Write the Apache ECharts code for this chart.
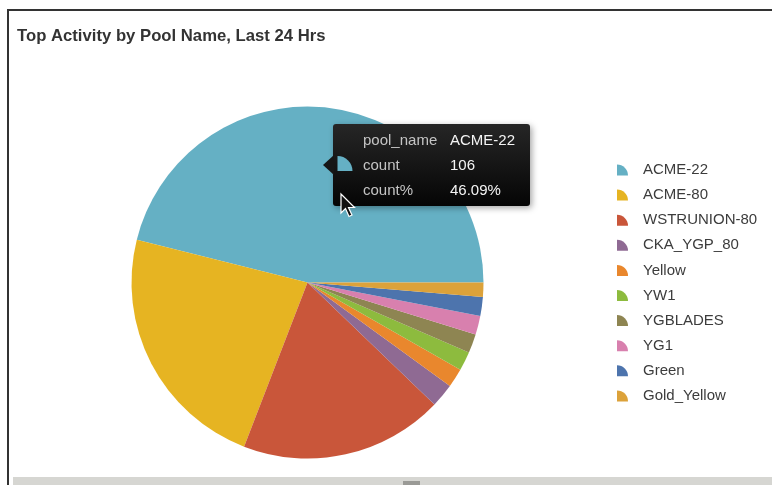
<!DOCTYPE html>
<html>
<head>
<meta charset="utf-8">
<title>Top Activity by Pool Name, Last 24 Hrs</title>
<script src="https://cdn.jsdelivr.net/npm/echarts@6/dist/echarts.min.js"></script>
<style>
  html, body { margin: 0; padding: 0; background: #ffffff; }
  #chart { width: 772px; height: 485px; }
</style>
</head>
<body>
<div id="chart"></div>
<script>
// Pool names and their activity counts over the last 24 hours
const poolNames = ['ACME-22', 'ACME-80', 'WSTRUNION-80', 'CKA_YGP_80', 'Yellow', 'YW1', 'YGBLADES', 'YG1', 'Green', 'Gold_Yellow'];
const counts = [106, 53, 43, 5, 4, 4, 4, 4, 4, 3];
const sliceColors = ['#65b0c4', '#e6b422', '#c9563a', '#8f6a93', '#e9872d', '#8dbb3e', '#8e8552', '#d880ae', '#4d74ad', '#dca23a'];

// Fields shown in the hover card
const tipFields = ['pool_name', 'count', 'count%'];
const tipIndex = 0;

const total = counts.reduce((a, b) => a + b, 0);
const tipValues = [
  poolNames[tipIndex],
  String(counts[tipIndex]),
  (counts[tipIndex] / total * 100).toFixed(2) + '%'
];

const wedgeIcon = 'path://M0,11 L0,0 A11,11 0 0 1 11,11 Z';
const FONT = 'Liberation Sans, Arial, Helvetica, sans-serif';

const chart = echarts.init(document.getElementById('chart'), null, { renderer: 'canvas' });

// Hover card (box, pointer, wedge swatch, rows) and the mouse pointer
const tipX = 333, tipY = 124, tipW = 197, tipH = 82;
const tipRows = [];
tipFields.forEach((f, i) => {
  const y = 140.5 + i * 25.2;
  tipRows.push({ type: 'text', x: 363, y: y, z: 101,
    style: { text: f, fill: '#c4c4c4', font: '15px ' + FONT, textVerticalAlign: 'middle', verticalAlign: 'middle' } });
  tipRows.push({ type: 'text', x: 450, y: y, z: 101,
    style: { text: tipValues[i], fill: '#f4f4f4', font: '15px ' + FONT, textVerticalAlign: 'middle', verticalAlign: 'middle' } });
});

const option = {
  backgroundColor: '#ffffff',
  animation: false,
  title: {
    text: 'Top Activity by Pool Name, Last 24 Hrs',
    left: 17, top: 28, padding: 0,
    textStyle: { fontFamily: FONT, fontSize: 16.7, fontWeight: 'bold', color: '#333333' }
  },
  legend: {
    orient: 'vertical',
    left: 617, top: 162,
    padding: 0,
    itemWidth: 11, itemHeight: 11,
    itemGap: 9.1,
    icon: wedgeIcon,
    selectedMode: false,
    data: poolNames,
    textStyle: { fontFamily: FONT, fontSize: 15, color: '#3c3c3c', lineHeight: 16, padding: [0, 0, 0, 10] }
  },
  color: sliceColors,
  series: [{
    type: 'pie',
    center: [307.5, 282.5],
    radius: 176,
    startAngle: 0,
    clockwise: false,
    avoidLabelOverlap: false,
    label: { show: false },
    labelLine: { show: false },
    itemStyle: { borderWidth: 0 },
    emphasis: { disabled: true },
    data: poolNames.map((n, i) => ({ name: n, value: counts[i] }))
  }],
  graphic: [
    // panel frame
    { type: 'rect', shape: { x: 7, y: 9, width: 765, height: 2 }, style: { fill: '#333333' }, z: 50 },
    { type: 'rect', shape: { x: 7, y: 9, width: 2, height: 476 }, style: { fill: '#333333' }, z: 50 },
    { type: 'rect', shape: { x: 13, y: 477, width: 759, height: 8 }, style: { fill: '#d6d6d2' }, z: 50 },
    { type: 'rect', shape: { x: 403, y: 481, width: 17, height: 4 }, style: { fill: '#9a9a96' }, z: 51 },
    // hover card
    { type: 'rect', z: 100,
      shape: { x: tipX, y: tipY, width: tipW, height: tipH, r: 3 },
      style: {
        fill: new echarts.graphic.LinearGradient(0, 0, 0, 1, [
          { offset: 0, color: '#262626' }, { offset: 1, color: '#050505' }
        ]),
        shadowBlur: 6, shadowOffsetX: 2, shadowOffsetY: 2, shadowColor: 'rgba(0,0,0,0.35)'
      } },
    { type: 'polygon', z: 100,
      shape: { points: [[tipX + 1, 155], [323, 165], [tipX + 1, 175]] },
      style: { fill: '#161616' } },
    { type: 'sector', z: 101,
      shape: { cx: 337.5, cy: 171, r: 15, r0: 0, startAngle: -Math.PI / 2, endAngle: 0, clockwise: true },
      style: { fill: sliceColors[tipIndex] } },
    ...tipRows,
    // mouse pointer
    { type: 'polygon', z: 110,
      shape: { points: [[341, 194], [341, 213], [345.5, 208.5], [349, 216.5], [352, 215], [348.5, 207.5], [354.5, 207.5]] },
      style: { fill: '#111111', stroke: '#ffffff', lineWidth: 1.2 } }
  ]
};

chart.setOption(option);
</script>
</body>
</html>
